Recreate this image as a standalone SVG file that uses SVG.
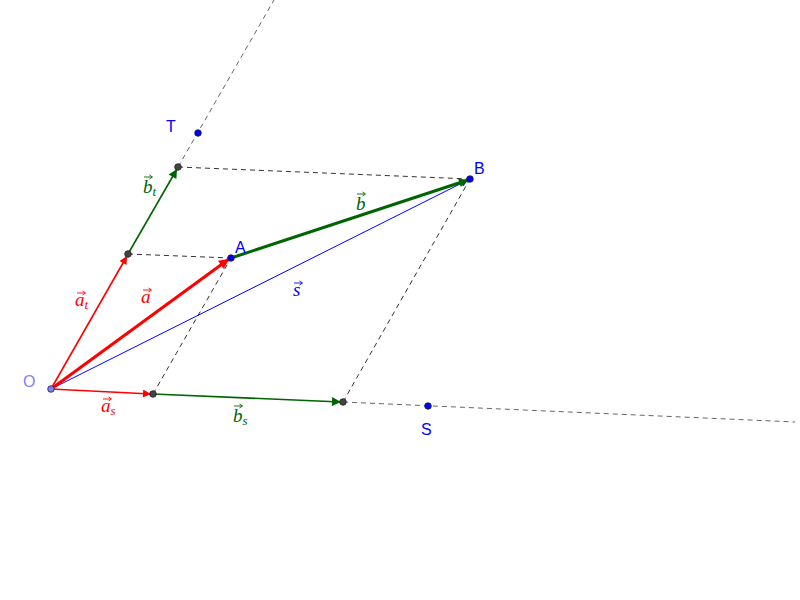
<svg xmlns="http://www.w3.org/2000/svg" width="800" height="600" viewBox="0 0 800 600">
<defs>
<marker id="hrs" viewBox="0 0 10 10" refX="10" refY="5" markerWidth="12" markerHeight="8" markerUnits="userSpaceOnUse" orient="auto"><path d="M0,0 L10,5 L0,10 z" fill="#ff0000"/></marker>
<marker id="hrl" viewBox="0 0 10 10" refX="10" refY="5" markerWidth="15" markerHeight="10" markerUnits="userSpaceOnUse" orient="auto"><path d="M0,0 L10,5 L0,10 z" fill="#ff0000"/></marker>
<marker id="hg" viewBox="0 0 10 10" refX="10" refY="5" markerWidth="14" markerHeight="9" markerUnits="userSpaceOnUse" orient="auto"><path d="M0,0 L10,5 L0,10 z" fill="#006400"/></marker>
<marker id="hb" viewBox="0 0 10 10" refX="10" refY="5" markerWidth="12" markerHeight="7" markerUnits="userSpaceOnUse" orient="auto"><path d="M0,0 L10,5 L0,10 z" fill="#0000ff"/></marker>
<path id="va" d="M0,0 H8 M5.5,-2 L8.5,0 L5.5,2" fill="none" stroke-width="0.9"/>
</defs>
<style>
.dash{stroke:#333;stroke-width:1;stroke-dasharray:5,4;fill:none}
.dashl{stroke:#666;stroke-width:1;stroke-dasharray:5,4;fill:none}
.vr{stroke:#ff0000;fill:none}
.vg{stroke:#006400;fill:none}
.vb{stroke:#0000ff;fill:none}
.pt{stroke:#222;stroke-width:0.8}
.lbl{font-family:"Liberation Sans",Arial,sans-serif;font-size:16px}
.vl{font-family:"Liberation Serif","DejaVu Serif",serif;font-style:italic;font-size:19px}
.sub{font-size:13px}
</style>
<rect width="800" height="600" fill="#ffffff"/>
<g id="connectors">
<line class="dashl" x1="178" y1="167" x2="274" y2="0"/>
<line class="dashl" x1="343" y1="402" x2="795" y2="422"/>
<line class="dash" x1="128" y1="254" x2="231" y2="258"/>
<line class="dash" x1="178" y1="167" x2="470" y2="179"/>
<line class="dash" x1="153" y1="394" x2="231" y2="258"/>
<line class="dash" x1="343" y1="402" x2="470" y2="179"/>
<line class="vb" stroke-width="1" x1="51" y1="389" x2="468" y2="180" marker-end="url(#hb)"/>
<line class="vr" stroke-width="1.6" x1="51" y1="389" x2="127" y2="256" marker-end="url(#hrs)"/>
<line class="vr" stroke-width="1.6" x1="51" y1="389" x2="151" y2="394" marker-end="url(#hrs)"/>
<line class="vr" stroke-width="3" x1="51" y1="389" x2="229" y2="259" marker-end="url(#hrl)"/>
<line class="vg" stroke-width="3" x1="231" y1="258" x2="468" y2="180" marker-end="url(#hg)"/>
<line class="vg" stroke-width="1.6" x1="128" y1="254" x2="177" y2="169" marker-end="url(#hg)"/>
<line class="vg" stroke-width="1.6" x1="153" y1="394" x2="341" y2="402" marker-end="url(#hg)"/>
</g>
<g id="O"><circle class="pt" cx="51" cy="389" r="3.3" fill="#7f7fff"/><text class="lbl" x="23" y="387" fill="#7f7fff">O</text></g>
<g id="A"><circle class="pt" cx="231" cy="258" r="3.3" fill="#0000ff"/><text class="lbl" x="235" y="253" fill="#0000ff">A</text></g>
<g id="B"><circle class="pt" cx="470" cy="179" r="3.3" fill="#0000ff"/><text class="lbl" x="474" y="174" fill="#0000ff">B</text></g>
<g id="T"><circle class="pt" cx="198" cy="133" r="3.3" fill="#0000ff"/><text class="lbl" x="166" y="132" fill="#0000ff">T</text></g>
<g id="S"><circle class="pt" cx="428" cy="406" r="3.3" fill="#0000ff"/><text class="lbl" x="421" y="435" fill="#0000ff">S</text></g>
<g id="P1"><circle class="pt" cx="128" cy="254" r="3.3" fill="#444444"/></g>
<g id="P2"><circle class="pt" cx="178" cy="167" r="3.3" fill="#444444"/></g>
<g id="P3"><circle class="pt" cx="153" cy="394" r="3.3" fill="#444444"/></g>
<g id="P4"><circle class="pt" cx="343" cy="402" r="3.3" fill="#444444"/></g>
<g id="label-a" fill="#ff0000" stroke="#ff0000"><text class="vl" x="141" y="303" stroke="none">a</text><use href="#va" x="143" y="290"/></g>
<g id="label-at" fill="#ff0000" stroke="#ff0000"><text class="vl" x="75" y="306" stroke="none">a<tspan class="sub" dy="3">t</tspan></text><use href="#va" x="77" y="293"/></g>
<g id="label-as" fill="#ff0000" stroke="#ff0000"><text class="vl" x="101" y="412" stroke="none">a<tspan class="sub" dy="3">s</tspan></text><use href="#va" x="103" y="399"/></g>
<g id="label-b" fill="#006400" stroke="#006400"><text class="vl" x="356" y="210" stroke="none">b</text><use href="#va" x="357" y="194"/></g>
<g id="label-bt" fill="#006400" stroke="#006400"><text class="vl" x="143" y="193" stroke="none">b<tspan class="sub" dy="3">t</tspan></text><use href="#va" x="144" y="177"/></g>
<g id="label-bs" fill="#006400" stroke="#006400"><text class="vl" x="233" y="422" stroke="none">b<tspan class="sub" dy="3">s</tspan></text><use href="#va" x="234" y="406"/></g>
<g id="label-s" fill="#0000ff" stroke="#0000ff"><text class="vl" x="293" y="296" stroke="none">s</text><use href="#va" x="294" y="283"/></g>
</svg>
